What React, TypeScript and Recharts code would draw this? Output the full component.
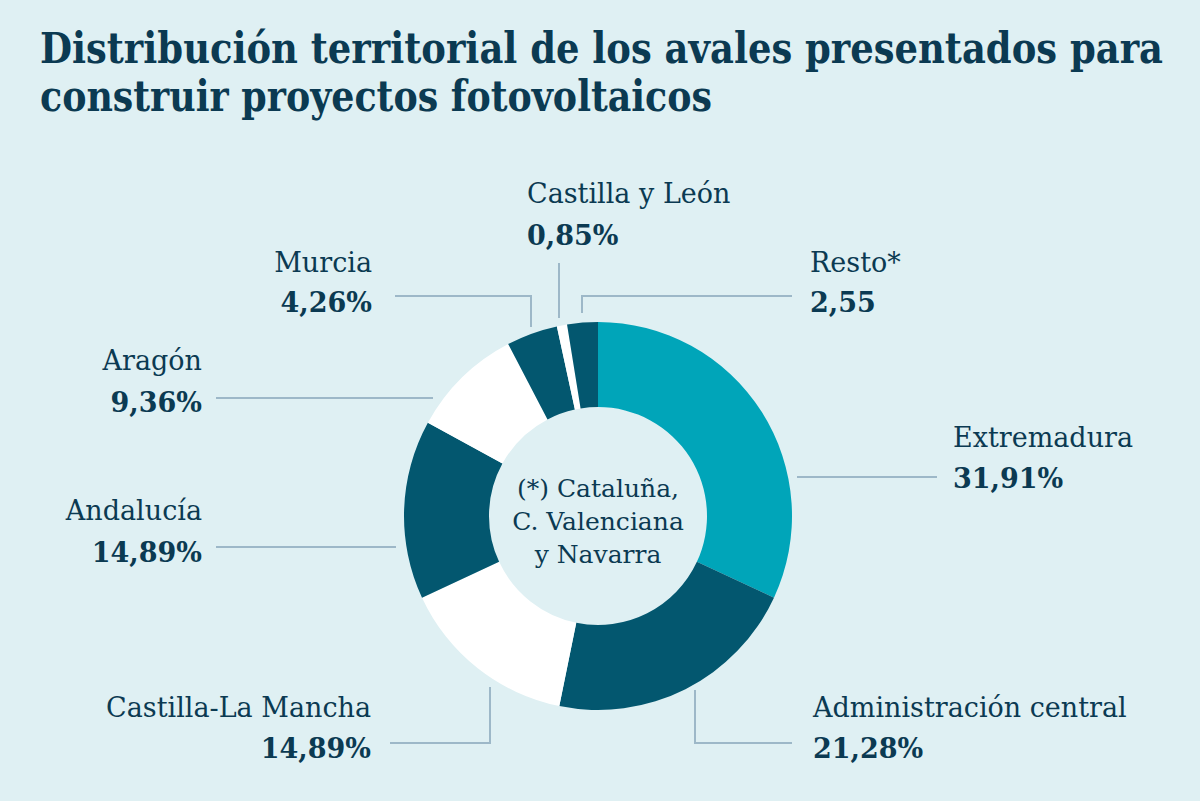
import { PieChart, Pie, Cell, Label } from 'recharts';

const REGIONS = [
  'Extremadura',
  'Administración central',
  'Castilla-La Mancha',
  'Andalucía',
  'Aragón',
  'Murcia',
  'Castilla y León',
  'Resto*',
];
const SHARES = [31.91, 21.28, 14.89, 14.89, 9.36, 4.26, 0.85, 2.55];
const SHARE_LABELS = ['31,91%', '21,28%', '14,89%', '14,89%', '9,36%', '4,26%', '0,85%', '2,55'];
const CENTER_NOTE = ['(*) Cataluña,', 'C. Valenciana', 'y Navarra'];
const TITLE = ['Distribución territorial de los avales presentados para', 'construir proyectos fotovoltaicos'];

const BG = '#dff0f3';
const INK = '#0b3a52';
const LINE = '#9db8c8';
const SLICE_COLORS = ['#00a5b9', '#03576f', '#ffffff', '#03576f', '#ffffff', '#03576f', '#ffffff', '#03576f'];

const SERIF = '"DejaVu Serif", serif';
const SQUEEZE = 0.85;

// label placement, offsets from the pie centre
type Annot = { anchor: 'start' | 'end'; tx: number; ny: number; vy: number; pts: [number, number][] };
const ANNOT: Annot[] = [
  { anchor: 'start', tx: 355, ny: -69, vy: -28, pts: [[199, -39], [339, -39]] },
  { anchor: 'start', tx: 215, ny: 201, vy: 242, pts: [[97, 174], [97, 227], [194, 227]] },
  { anchor: 'end', tx: -227, ny: 201, vy: 242, pts: [[-108, 171], [-108, 227], [-208, 227]] },
  { anchor: 'end', tx: -396, ny: 4, vy: 46, pts: [[-202, 31], [-382, 31]] },
  { anchor: 'end', tx: -396, ny: -146, vy: -104, pts: [[-165, -118], [-382, -118]] },
  { anchor: 'end', tx: -226, ny: -244, vy: -204, pts: [[-67, -189], [-67, -220], [-203, -220]] },
  { anchor: 'start', tx: -71, ny: -313, vy: -271, pts: [[-39, -198], [-39, -253]] },
  { anchor: 'start', tx: 212, ny: -244, vy: -204, pts: [[-16, -203], [-16, -220], [194, -220]] },
];

const data = REGIONS.map((name, i) => ({ name, value: SHARES[i] }));

function renderLabel(props: any) {
  const { cx, cy, index } = props;
  const a = ANNOT[index];
  const pts = a.pts.map(([x, y]) => `${cx + x},${cy + y}`).join(' ');
  return (
    <g key={`lbl-${index}`}>
      <polyline points={pts} fill="none" stroke={LINE} strokeWidth={2} />
      <text x={cx + a.tx} y={cy + a.ny} textAnchor={a.anchor} fill={INK} fontFamily={SERIF} fontSize={27}>
        {REGIONS[index]}
      </text>
      <text x={cx + a.tx} y={cy + a.vy} textAnchor={a.anchor} fill={INK} fontFamily={SERIF} fontSize={27} fontWeight={700}>
        {SHARE_LABELS[index]}
      </text>
    </g>
  );
}

function CenterNote(props: any) {
  const vb = props.viewBox ?? {};
  const cx = vb.cx ?? 598;
  const cy = vb.cy ?? 516;
  return (
    <text x={cx} y={cy - 19} textAnchor="middle" fill={INK} fontFamily={SERIF} fontSize={25}>
      {CENTER_NOTE.map((t, i) => (
        <tspan key={t} x={cx} dy={i === 0 ? 0 : 33}>
          {t}
        </tspan>
      ))}
    </text>
  );
}

export default function App() {
  return (
    <div style={{ position: 'absolute', left: 0, top: 0, width: 1200, height: 801, background: BG }}>
      <svg width={1200} height={130} style={{ position: 'absolute', left: 0, top: 0 }}>
        <g transform={`translate(40,0) scale(${SQUEEZE},1)`}>
          <text x={0} y={63} fill={INK} fontFamily={SERIF} fontWeight={700} fontSize={43} textLength={1123 / SQUEEZE} lengthAdjust="spacingAndGlyphs">
            {TITLE[0]}
          </text>
          <text x={0} y={111} fill={INK} fontFamily={SERIF} fontWeight={700} fontSize={43} textLength={672 / SQUEEZE} lengthAdjust="spacingAndGlyphs">
            {TITLE[1]}
          </text>
        </g>
      </svg>
      <div style={{ position: 'absolute', left: 0, top: 0 }}>
        <PieChart width={1200} height={801} margin={{ top: 0, right: 0, bottom: 0, left: 0 }}>
          <Pie
            data={data}
            dataKey="value"
            nameKey="name"
            cx={598}
            cy={516}
            innerRadius={109}
            outerRadius={194}
            startAngle={90}
            endAngle={-270}
            stroke="none"
            label={renderLabel}
            labelLine={false}
            isAnimationActive={false}
          >
            {data.map((d, i) => (
              <Cell key={d.name} fill={SLICE_COLORS[i]} />
            ))}
            <Label position="center" content={CenterNote} />
          </Pie>
        </PieChart>
      </div>
    </div>
  );
}
